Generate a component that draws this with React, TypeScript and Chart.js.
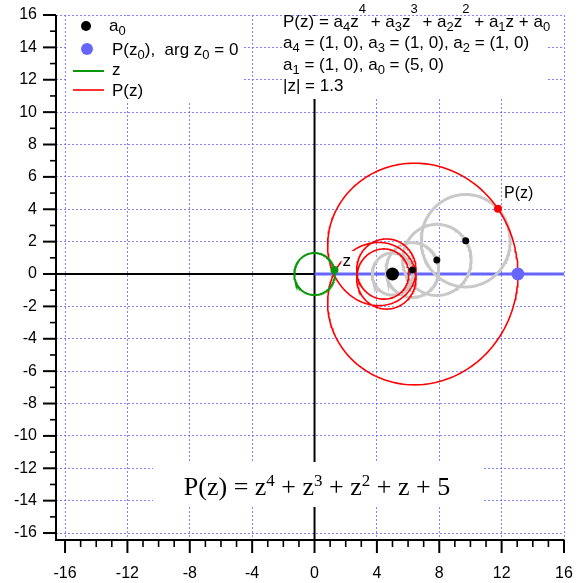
import { useEffect, useRef } from "react";
import { Chart, registerables } from "chart.js";

Chart.register(...registerables);

// P(z) = a4 z^4 + a3 z^3 + a2 z^2 + a1 z + a0, coefficients stored as (re, im), highest degree first
const coefNames = ["4", "3", "2", "1", "0"];
const coefRe = [1, 1, 1, 1, 5];
const coefIm = [0, 0, 0, 0, 0];
const zModulus = 1.3;
const zArgument = 0.19; // radians: where the moving point z currently sits on |z| = 1.3
const curveSamples = 720;
const circleSamples = 180;

const xRange = [-16.58, 16];
const yRange = [-16.43, 16];
const xTickValues = [-16, -12, -8, -4, 0, 4, 8, 12, 16];
const yTickValues = [-16, -14, -12, -10, -8, -6, -4, -2, 0, 2, 4, 6, 8, 10, 12, 14, 16];

const SANS = '"Liberation Sans", Arial, sans-serif';
const SERIF = '"Liberation Serif", "Times New Roman", serif';

type Cx = [number, number];
const cadd = (a: Cx, b: Cx): Cx => [a[0] + b[0], a[1] + b[1]];
const cmul = (a: Cx, b: Cx): Cx => [a[0] * b[0] - a[1] * b[1], a[0] * b[1] + a[1] * b[0]];
const cpow = (z: Cx, n: number): Cx => {
  let r: Cx = [1, 0];
  for (let i = 0; i < n; i++) r = cmul(r, z);
  return r;
};
const degree = coefRe.length - 1;
const coef = (k: number): Cx => [coefRe[degree - k], coefIm[degree - k]];
const polar = (r: number, t: number): Cx => [r * Math.cos(t), r * Math.sin(t)];

// Running sums a0, a0 + a1 z, a0 + a1 z + a2 z^2, ... (centres of the epicycles)
function partialSums(z: Cx): Cx[] {
  const sums: Cx[] = [coef(0)];
  for (let k = 1; k <= degree; k++) sums.push(cadd(sums[k - 1], cmul(coef(k), cpow(z, k))));
  return sums;
}
const evalP = (z: Cx): Cx => partialSums(z)[degree];

const zNow = polar(zModulus, zArgument);
const sums = partialSums(zNow);
const pNow = sums[degree];
const pZero = evalP([zModulus, 0]);

const pt = (c: Cx) => ({ x: c[0], y: c[1] });

const curveP = Array.from({ length: curveSamples + 1 }, (_, i) =>
  pt(evalP(polar(zModulus, (2 * Math.PI * i) / curveSamples)))
);
const circlePts = (c: Cx, r: number) =>
  Array.from({ length: circleSamples + 1 }, (_, i) =>
    pt(cadd(c, polar(r, (2 * Math.PI * i) / circleSamples)))
  );
const zCircle = circlePts([0, 0], zModulus);
const epicycles = Array.from({ length: degree }, (_, i) => {
  const term = cmul(coef(i + 1), cpow(zNow, i + 1));
  return circlePts(sums[i], Math.hypot(term[0], term[1]));
});

type Seg = { t: string; s?: "sub" | "sup" };

function drawRich(
  ctx: CanvasRenderingContext2D,
  segs: Seg[],
  x: number,
  y: number,
  size: number,
  family: string,
  subSize: number,
  subDrop: number,
  supRaise: number,
  measureOnly = false
) {
  let cx = x;
  for (const seg of segs) {
    const fs = seg.s ? subSize : size;
    ctx.font = `${fs}px ${family}`;
    const dy = seg.s === "sub" ? subDrop : seg.s === "sup" ? -supRaise : 0;
    if (!measureOnly) ctx.fillText(seg.t, cx, y + dy);
    cx += ctx.measureText(seg.t).width;
  }
  return cx - x;
}

const pair = (k: number) => `(${coefRe[degree - k]}, ${coefIm[degree - k]})`;

const infoLines: Seg[][] = [
  [
    { t: "P(z) = a" }, { t: coefNames[0], s: "sub" }, { t: "z" }, { t: "4", s: "sup" },
    { t: " + a" }, { t: coefNames[1], s: "sub" }, { t: "z" }, { t: "3", s: "sup" },
    { t: " + a" }, { t: coefNames[2], s: "sub" }, { t: "z" }, { t: "2", s: "sup" },
    { t: " + a" }, { t: coefNames[3], s: "sub" }, { t: "z + a" }, { t: coefNames[4], s: "sub" },
  ],
  [
    { t: "a" }, { t: "4", s: "sub" }, { t: ` = ${pair(4)}, a` }, { t: "3", s: "sub" },
    { t: ` = ${pair(3)}, a` }, { t: "2", s: "sub" }, { t: ` = ${pair(2)}` },
  ],
  [{ t: "a" }, { t: "1", s: "sub" }, { t: ` = ${pair(1)}, a` }, { t: "0", s: "sub" }, { t: ` = ${pair(0)}` }],
  [{ t: `|z| = ${zModulus}` }],
];

// Explicit form of the polynomial for the caption
function captionSegs(): Seg[] {
  const out: Seg[] = [{ t: "P(z) = " }];
  let first = true;
  for (let k = degree; k >= 0; k--) {
    const c = coefRe[degree - k];
    if (c === 0) continue;
    let s = first ? "" : " + ";
    first = false;
    if (k === 0) s += String(c);
    else s += (c === 1 ? "" : String(c)) + "z";
    out.push({ t: s });
    if (k > 1) out.push({ t: String(k), s: "sup" });
  }
  return out;
}

const decor = {
  id: "decor",
  beforeDatasetsDraw(chart: any) {
    const { ctx, chartArea: a, scales } = chart;
    const x0 = scales.x.getPixelForValue(0);
    const y0 = scales.y.getPixelForValue(0);
    ctx.save();
    ctx.strokeStyle = "#000";
    ctx.lineWidth = 2;
    ctx.beginPath();
    ctx.moveTo(a.left, y0);
    ctx.lineTo(a.right, y0);
    ctx.moveTo(x0, a.top);
    ctx.lineTo(x0, a.bottom);
    ctx.stroke();
    ctx.restore();
  },
  afterDatasetsDraw(chart: any) {
    const { ctx, chartArea: a, scales } = chart;
    const xs = scales.x;
    const ys = scales.y;
    ctx.save();

    // white panels behind the text blocks
    ctx.fillStyle = "#fff";
    ctx.fillRect(67, a.top + 1, 176, 85);
    ctx.fillRect(282, a.top + 1, 265, 83);
    ctx.fillRect(153, 462, 331, 45);

    ctx.fillStyle = "#000";
    ctx.textBaseline = "alphabetic";
    ctx.textAlign = "left";

    // legend
    ctx.beginPath();
    ctx.arc(86, 26, 5, 0, Math.PI * 2);
    ctx.fillStyle = "#000";
    ctx.fill();
    ctx.beginPath();
    ctx.arc(87, 49, 6, 0, Math.PI * 2);
    ctx.fillStyle = "#6666ff";
    ctx.fill();
    ctx.lineWidth = 2;
    ctx.strokeStyle = "#0a960a";
    ctx.beginPath();
    ctx.moveTo(73, 71);
    ctx.lineTo(104, 71);
    ctx.stroke();
    ctx.lineWidth = 1.6;
    ctx.strokeStyle = "#ff0000";
    ctx.beginPath();
    ctx.moveTo(73, 90);
    ctx.lineTo(104, 90);
    ctx.stroke();
    ctx.fillStyle = "#000";
    drawRich(ctx, [{ t: "a" }, { t: "0", s: "sub" }], 109, 31, 17, SANS, 13, 4, 12);
    drawRich(
      ctx,
      [{ t: "P(z" }, { t: "0", s: "sub" }, { t: "),  arg z" }, { t: "0", s: "sub" }, { t: " = 0" }],
      112, 55, 17, SANS, 13, 4, 12
    );
    drawRich(ctx, [{ t: "z" }], 112, 75, 17, SANS, 13, 4, 12);
    drawRich(ctx, [{ t: "P(z)" }], 112, 96, 17, SANS, 13, 4, 12);

    // info block
    const baselines = [27, 48, 69.5, 91];
    infoLines.forEach((segs, i) => drawRich(ctx, segs, 283, baselines[i], 17, SANS, 13, 4, 14));

    // caption
    const cap = captionSegs();
    const w = drawRich(ctx, cap, 0, 0, 26, SERIF, 17, 0, 9, true);
    drawRich(ctx, cap, 317 - w / 2, 495, 26, SERIF, 17, 0, 9);

    // point labels
    const zx = xs.getPixelForValue(zNow[0]);
    const zy = ys.getPixelForValue(zNow[1]);
    ctx.fillStyle = "#fff";
    ctx.fillRect(zx + 7, zy - 19, 14, 16);
    ctx.fillStyle = "#000";
    ctx.font = `17px ${SANS}`;
    ctx.fillText("z", zx + 8, zy - 4);
    const px = xs.getPixelForValue(pNow[0]);
    const py = ys.getPixelForValue(pNow[1]);
    ctx.font = `16px ${SANS}`;
    ctx.fillText("P(z)", px + 6, py - 11);

    // axis frame and tick marks
    ctx.strokeStyle = "#000";
    ctx.lineWidth = 2;
    ctx.beginPath();
    ctx.moveTo(a.left, a.top);
    ctx.lineTo(a.left, a.bottom);
    ctx.lineTo(a.right, a.bottom);
    ctx.stroke();
    for (let v = -16; v <= 16; v++) {
      const p = xs.getPixelForValue(v);
      const major = v % 4 === 0;
      ctx.lineWidth = major ? 2 : 1.6;
      ctx.beginPath();
      ctx.moveTo(p, a.bottom);
      ctx.lineTo(p, a.bottom + (major ? 13 : 7));
      ctx.stroke();
    }
    for (let v = -16; v <= 16; v++) {
      const p = ys.getPixelForValue(v);
      const major = v % 2 === 0;
      ctx.lineWidth = major ? 2 : 1.6;
      ctx.beginPath();
      ctx.moveTo(a.left, p);
      ctx.lineTo(a.left - (major ? 13 : 6), p);
      ctx.stroke();
    }
    ctx.restore();
  },
};

const gridColor = "rgba(90, 90, 255, 0.75)";

const noOverflow = (s: any) => {
  s.paddingTop = 0;
  s.paddingBottom = 0;
  s.paddingLeft = 0;
  s.paddingRight = 0;
};

export default function App() {
  const ref = useRef<HTMLCanvasElement>(null);

  useEffect(() => {
    if (!ref.current) return;
    const line = (data: any[], color: string, width: number, order: number) => ({
      data,
      showLine: true,
      borderColor: color,
      borderWidth: width,
      pointRadius: 0,
      fill: false,
      order,
    });
    const dots = (data: any[], color: string, radius: number, order: number) => ({
      data,
      showLine: false,
      pointRadius: radius,
      pointBackgroundColor: color,
      pointBorderWidth: 0,
      borderColor: color,
      order,
    });

    const chart = new Chart(ref.current, {
      type: "scatter",
      data: {
        datasets: [
          line([{ x: 0, y: 0 }, { x: xRange[1], y: 0 }], "#6666ff", 3, 9),
          ...epicycles.map((c) => line(c, "#c8c8c8", 3, 8)),
          line(curveP, "#ff0000", 1.6, 6),
          line(zCircle, "#0a960a", 2, 5),
          dots([pt(sums[0])], "#000", 6.5, 2),
          dots(sums.slice(1, degree).map(pt), "#000", 3.5, 2),
          dots([pt(pNow)], "#ff0000", 4, 1),
          dots([pt(zNow)], "#0a960a", 4, 1),
          dots([pt(pZero)], "#6666ff", 6.5, 1),
        ] as any,
      },
      options: {
        animation: false,
        responsive: false,
        devicePixelRatio: 1,
        events: [],
        layout: { padding: { top: 15, right: 16, left: 0, bottom: 0 } },
        plugins: { legend: { display: false }, tooltip: { enabled: false } },
        scales: {
          x: {
            type: "linear",
            min: xRange[0],
            max: xRange[1],
            afterFit: (s: any) => {
              s.height = 43;
              noOverflow(s);
            },
            afterBuildTicks: (s: any) => {
              s.ticks = xTickValues.map((v) => ({ value: v }));
            },
            ticks: {
              autoSkip: false,
              maxRotation: 0,
              padding: 24,
              color: "#000",
              font: { family: SANS, size: 16 },
              callback: (v: any) => String(v),
            },
            grid: { color: gridColor, lineWidth: 1, drawTicks: false },
            border: { display: false, dash: [2, 2] },
          },
          y: {
            type: "linear",
            min: yRange[0],
            max: yRange[1],
            afterFit: (s: any) => {
              s.width = 56;
              noOverflow(s);
            },
            afterBuildTicks: (s: any) => {
              s.ticks = yTickValues.map((v) => ({ value: v }));
            },
            ticks: {
              autoSkip: false,
              padding: 19,
              color: "#000",
              font: { family: SANS, size: 16 },
              callback: (v: any) => String(v),
            },
            grid: { color: gridColor, lineWidth: 1, drawTicks: false },
            border: { display: false, dash: [2, 2] },
          },
        },
      } as any,
      plugins: [decor],
    });
    return () => chart.destroy();
  }, []);

  return (
    <div style={{ position: "fixed", left: 0, top: 0, width: 580, height: 583, background: "#fff" }}>
      <canvas ref={ref} width={580} height={583} style={{ display: "block" }} />
    </div>
  );
}
